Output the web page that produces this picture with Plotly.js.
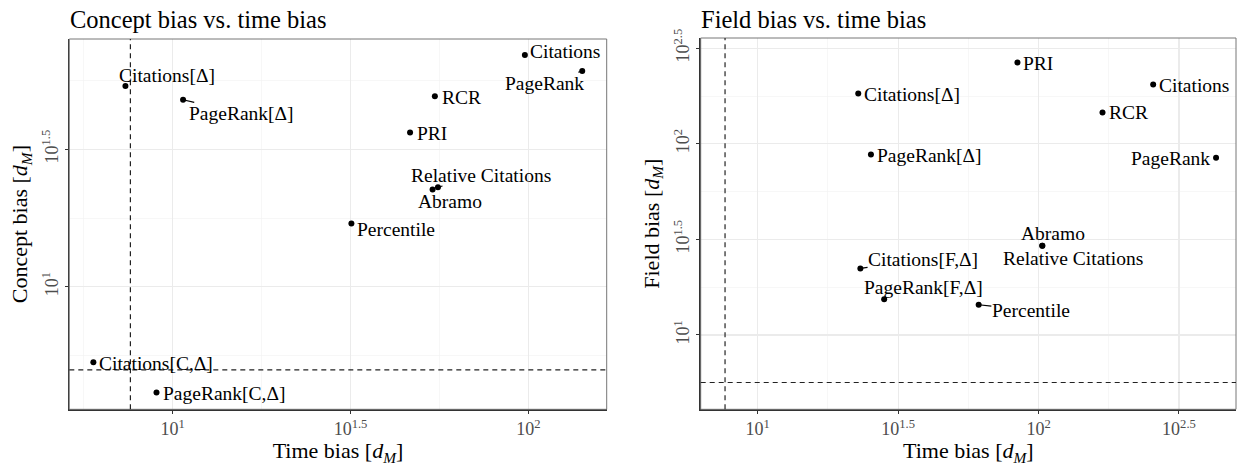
<!DOCTYPE html>
<html>
<head>
<meta charset="utf-8">
<script src="https://cdn.plot.ly/plotly-3.0.1.min.js"></script>
<style>html,body{margin:0;padding:0;background:#fff;}#chart{width:1238px;height:466px;}</style>
</head>
<body>
<div id="chart"></div>
<script>
// ---------- data: left panel (concept bias vs time bias) ----------
const conceptNames = ['Citations','PageRank','Citations[Δ]','PageRank[Δ]','RCR','PRI','Relative Citations','Abramo','Percentile','Citations[C,Δ]','PageRank[C,Δ]'];
const conceptTime  = [97.8, 141.8, 7.36, 10.69, 54.6, 46.5, 55.7, 53.8, 31.8, 5.98, 9.0];
const conceptBias  = [69.7, 61.0, 53.8, 47.9, 49.3, 36.4, 23.0, 22.6, 17.0, 5.31, 4.12];
const conceptTimeThreshold = 7.6;
const conceptBiasThreshold = 4.98;

// ---------- data: right panel (field bias vs time bias) ----------
const fieldNames = ['PRI','Citations','Citations[Δ]','RCR','PageRank[Δ]','PageRank','Abramo','Relative Citations','Citations[F,Δ]','PageRank[F,Δ]','Percentile'];
const fieldTime  = [84.1, 255.9, 22.8, 168.9, 25.3, 428.5, 103.1, 103.1, 23.2, 28.2, 61.2];
const fieldBias  = [266.8, 204.7, 183.7, 146.1, 88.1, 84.6, 29.3, 29.3, 22.3, 15.4, 14.4];
const fieldTimeThreshold = 7.65;
const fieldBiasThreshold = 5.64;

// ---------- tick labels ----------
const tickExpLeftX  = [1, 1.5, 2];
const tickExpLeftY  = [1, 1.5];
const tickExpRightX = [1, 1.5, 2, 2.5];
const tickExpRightY = [1, 1.5, 2, 2.5];
const minorExpLeftX  = [0.75, 1.25, 1.75];
const minorExpLeftY  = [0.75, 1.25, 1.75];
const minorExpRightX = [1.25, 1.75, 2.25];
const minorExpRightY = [0.75, 1.25, 1.75, 2.25];

// ---------- label placement (pixel offsets of label centre from point; seg = draw connector) ----------
const conceptLabelPos = [
  [40,-3,0],[-37.5,12.3,1],[41.7,-10.7,1],[58.4,13.6,1],[26.5,1,0],[22,0.6,0],
  [43,-12.3,1],[17.2,12.4,0],[44.8,5.7,0],[62.5,1,0],[67.6,0.6,0]
];
const fieldLabelPos = [
  [20.4,1,0],[41.2,0.7,0],[53.9,1,0],[25.7,0.4,0],[58.4,0.7,0],[-45.3,0.6,0],
  [11.2,-12.4,0],[31,12.6,0],[62.7,-9,1],[39.7,-11.7,1],[52.2,6,1]
];

const SERIF = '"Liberation Serif", "Times New Roman", Times, serif';
const W = 1238, H = 466;

function ticks(exps){ return exps.map(e => Math.pow(10, e)); }
function tickText(exps){ return exps.map(e => '10<sup>' + e + '</sup>'); }

function axis(exps, minors, range, domain, isY, anchor){
  return {
    type: 'log',
    range: range,
    domain: domain,
    anchor: anchor,
    tickmode: 'array',
    tickvals: ticks(exps),
    ticktext: tickText(exps),
    tickangle: isY ? -90 : 0,
    tickfont: {family: SERIF, size: 18, color: '#4d4d4d'},
    ticks: 'outside', ticklen: 3, tickwidth: 1, tickcolor: '#333',
    showgrid: true, gridcolor: '#ebebeb', gridwidth: 1.1,
    minor: {tickmode: 'array', tickvals: ticks(minors), showgrid: true, gridcolor: '#f2f2f2', gridwidth: 0.6, ticks: ''},
    showline: true, linecolor: '#333', linewidth: 1.4, mirror: false,
    zeroline: false, automargin: false, fixedrange: true
  };
}

const xL = [69.3/W, 606.7/W], xR = [700.7/W, 1236/W];
const yL = [(H-409.3)/H, (H-39)/H], yR = [(H-409.3)/H, (H-38)/H];
const axTitleFont = {family: SERIF, size: 22, color: '#000'};
const dM = ' [<i>d</i><sub><i>M</i></sub>]';

const layout = {
  width: W, height: H,
  margin: {l:0, r:0, t:0, b:0},
  paper_bgcolor: '#fff', plot_bgcolor: '#fff',
  showlegend: false,
  font: {family: SERIF},
  xaxis:  Object.assign(axis(tickExpLeftX,  minorExpLeftX,  [0.709, 2.2205], xL, false, 'y'),
            {title: {text: 'Time bias' + dM, font: axTitleFont, standoff: 2}}),
  yaxis:  Object.assign(axis(tickExpLeftY,  minorExpLeftY,  [0.554, 1.9014], yL, true, 'x'),
            {title: {text: 'Concept bias' + dM, font: axTitleFont, standoff: 5}}),
  xaxis2: Object.assign(axis(tickExpRightX, minorExpRightX, [0.797, 2.703], xR, false, 'y2'),
            {title: {text: 'Time bias' + dM, font: axTitleFont, standoff: 2}}),
  yaxis2: Object.assign(axis(tickExpRightY, minorExpRightY, [0.611, 2.554], yR, true, 'x2'),
            {title: {text: 'Field bias' + dM, font: axTitleFont, standoff: 5}}),
  shapes: [
    // panel borders (top/right lighter)
    {type:'rect', xref:'x domain', yref:'y domain', x0:0, x1:1, y0:0, y1:1, line:{color:'#777', width:1}, layer:'above'},
    {type:'rect', xref:'x2 domain', yref:'y2 domain', x0:0, x1:1, y0:0, y1:1, line:{color:'#777', width:1}, layer:'above'},
    // threshold lines
    {type:'line', xref:'x', yref:'y domain', x0:conceptTimeThreshold, x1:conceptTimeThreshold, y0:0, y1:1, line:{color:'#222', width:1.2, dash:'5px,4px'}},
    {type:'line', xref:'x domain', yref:'y', x0:0, x1:1, y0:conceptBiasThreshold, y1:conceptBiasThreshold, line:{color:'#222', width:1.2, dash:'5px,4px'}},
    {type:'line', xref:'x2', yref:'y2 domain', x0:fieldTimeThreshold, x1:fieldTimeThreshold, y0:0, y1:1, line:{color:'#222', width:1.2, dash:'5px,4px'}},
    {type:'line', xref:'x2 domain', yref:'y2', x0:0, x1:1, y0:fieldBiasThreshold, y1:fieldBiasThreshold, line:{color:'#222', width:1.2, dash:'5px,4px'}}
  ],
  annotations: []
};

// subplot titles
layout.annotations.push({xref:'paper', yref:'paper', x:68/W, y:(H-19)/H, xanchor:'left', yanchor:'middle',
  text:'Concept bias vs. time bias', showarrow:false, font:{family:SERIF, size:24.5, color:'#000'}});
layout.annotations.push({xref:'paper', yref:'paper', x:699/W, y:(H-19)/H, xanchor:'left', yanchor:'middle',
  text:'Field bias vs. time bias', showarrow:false, font:{family:SERIF, size:24.5, color:'#000'}});

function addLabels(names, xs, ys, pos, xref, yref){
  names.forEach((n, i) => {
    const p = pos[i];
    const a = {xref: xref, yref: yref, x: Math.log10(xs[i]), y: Math.log10(ys[i]), text: n,
      font: {family: SERIF, size: 19.5, color: '#000'}};
    if (p[2]) {
      Object.assign(a, {showarrow: true, ax: p[0], ay: p[1], arrowhead: 0, arrowwidth: 1.1, arrowcolor: '#000', standoff: 0, borderpad: 0});
    } else {
      Object.assign(a, {showarrow: false, xshift: p[0], yshift: -p[1]});
    }
    layout.annotations.push(a);
  });
}
addLabels(conceptNames, conceptTime, conceptBias, conceptLabelPos, 'x', 'y');
addLabels(fieldNames, fieldTime, fieldBias, fieldLabelPos, 'x2', 'y2');

const traces = [
  {type:'scatter', mode:'markers', x: conceptTime, y: conceptBias, xaxis:'x', yaxis:'y', text: conceptNames,
   marker:{color:'#000', size:6}, hoverinfo:'text'},
  {type:'scatter', mode:'markers', x: fieldTime, y: fieldBias, xaxis:'x2', yaxis:'y2', text: fieldNames,
   marker:{color:'#000', size:6}, hoverinfo:'text'}
];

Plotly.newPlot('chart', traces, layout, {displayModeBar:false, staticPlot:true});
</script>
</body>
</html>
